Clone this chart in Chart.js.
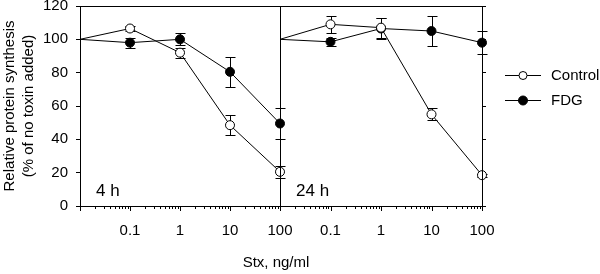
<!DOCTYPE html>
<html lang="en">
<head>
    <meta charset="UTF-8">
    <script src="https://cdn.jsdelivr.net/npm/chart.js"></script>
    <title>Stx protein synthesis</title>
    <style>
        body { margin: 0; background: #fff; }
        .wrap { position: relative; width: 600px; height: 274px; }
        .wrap canvas { position: absolute; top: 0; }
        #xtitle { position: absolute; left: 176px; top: 253px; width: 200px; text-align: center;
                  font: 15px "Liberation Sans", Arial, sans-serif; line-height: 18px; color: #000; }
    </style>
</head>
<body>
<div class="wrap">
    <canvas id="left" width="300" height="274" style="left:0;width:300px;height:274px"></canvas>
    <canvas id="right" width="340" height="274" style="left:260px;width:340px;height:274px"></canvas>
    <div id="xtitle">Stx, ng/ml</div>
</div>
<script>
// Stx dose (ng/ml); first entry = no toxin, drawn at the axis origin
const doses = [0.01, 0.1, 1, 10, 100]
const xLabels = [0.1, 1, 10, 100]
const yTicks = [0, 20, 40, 60, 80, 100, 120]

// 4 h
const ctrl4h = [100, 106.5, 92, 48.5, 20.5]
const ctrl4hErr = [0, 1.5, 3, 6, 3.5]
const fdg4h = [100, 98, 100, 80.5, 49.5]
const fdg4hErr = [0, 3, 3.5, 9, 9]

// 24 h
const ctrl24h = [100, 109, 107, 55, 18.5]
const ctrl24hErr = [0, 5, 6, 3.5, 1]
const fdg24h = [100, 98.5, 106.5, 105, 98]
const fdg24hErr = [0, 2.5, 6.5, 9, 7]

const seriesNames = ['Control', 'FDG']

Chart.defaults.font.family = '"Liberation Sans", Arial, sans-serif'
Chart.defaults.font.size = 15
Chart.defaults.color = '#000'

function makeSet(label, vals, errs, fill) {
    return {
        label: label,
        data: doses.map((d, i) => ({x: d, y: vals[i]})),
        errors: errs,
        borderColor: '#000',
        borderWidth: 1,
        backgroundColor: fill,
        pointBackgroundColor: fill,
        pointBorderColor: '#000',
        pointBorderWidth: 1,
        pointRadius: doses.map((d, i) => i == 0 ? 0 : 4.5),
        pointHoverRadius: doses.map((d, i) => i == 0 ? 0 : 4.5),
        tension: 0,
        clip: false
    }
}

// no extra padding from edge labels, so the plot area sits where we want it
function noPad(s) {
    s.paddingLeft = 0; s.paddingRight = 0; s.paddingTop = 0; s.paddingBottom = 0
}

// error bars + minor log ticks + frame + panel label
const extras = {
    id: 'extras',
    beforeDatasetsDraw(chart) {
        const c = chart.ctx
        const ys = chart.scales.y
        c.save()
        c.strokeStyle = '#000'
        c.lineWidth = 1
        chart.data.datasets.forEach((ds, i) => {
            const meta = chart.getDatasetMeta(i)
            ds.errors.forEach((e, j) => {
                if (!e) return
                const x = Math.round(meta.data[j].x) + 0.5
                const v = ds.data[j].y
                const t = Math.round(ys.getPixelForValue(v + e)) + 0.5
                const b = Math.round(ys.getPixelForValue(v - e)) + 0.5
                c.beginPath()
                c.moveTo(x, t); c.lineTo(x, b)
                c.moveTo(x - 5, t); c.lineTo(x + 5, t)
                c.moveTo(x - 5, b); c.lineTo(x + 5, b)
                c.stroke()
            })
        })
        c.restore()
    },
    afterDraw(chart, args, opts) {
        const c = chart.ctx
        const a = chart.chartArea
        const xs = chart.scales.x
        c.save()
        c.strokeStyle = '#000'
        c.lineWidth = 1
        // frame: top + vertical panel edges
        c.beginPath()
        c.moveTo(a.left, a.top + 0.5); c.lineTo(a.right, a.top + 0.5)
        c.moveTo(Math.round(a.left) + 0.5, a.top); c.lineTo(Math.round(a.left) + 0.5, a.bottom)
        c.moveTo(Math.round(a.right) + 0.5, a.top); c.lineTo(Math.round(a.right) + 0.5, a.bottom)
        c.stroke()
        // log ticks below x axis
        c.beginPath()
        ;[0.01, 0.1, 1, 10].forEach(d => {
            for (let k = 1; k <= 9; k++) {
                const px = Math.round(xs.getPixelForValue(k * d)) + 0.5
                const len = k == 1 ? 5 : 3
                c.moveTo(px, a.bottom); c.lineTo(px, a.bottom + len)
            }
        })
        const p100 = Math.round(xs.getPixelForValue(100)) + 0.5
        c.moveTo(p100, a.bottom); c.lineTo(p100, a.bottom + 5)
        c.stroke()
        // panel label
        c.fillStyle = '#000'
        c.font = '17px "Liberation Sans", Arial, sans-serif'
        c.textBaseline = 'alphabetic'
        c.fillText(opts.panel, a.left + 16, a.bottom - 10)
        // legend
        if (opts.legend) {
            const fills = ['#fff', '#000']
            seriesNames.forEach((n, i) => {
                const ly = a.top + 69 + i * 25 + 0.5
                const lx = a.right + 23
                c.beginPath()
                c.moveTo(lx, ly); c.lineTo(lx + 36, ly)
                c.stroke()
                c.beginPath()
                c.arc(lx + 18, ly, i == 0 ? 4 : 4.5, 0, Math.PI * 2)
                c.fillStyle = fills[i]
                c.fill()
                c.stroke()
                c.fillStyle = '#000'
                c.font = '15px "Liberation Sans", Arial, sans-serif'
                c.textBaseline = 'middle'
                c.fillText(n, lx + 46, ly)
            })
        }
        c.restore()
    }
}

function xScale() {
    return {
        type: 'logarithmic',
        min: 0.01,
        max: 100,
        afterBuildTicks: s => { s.ticks = xLabels.map(v => ({value: v})) },
        afterFit: s => { s.height = 68; noPad(s) },
        ticks: { callback: v => String(v), padding: 16, autoSkip: false, maxRotation: 0 },
        grid: { display: false, drawTicks: false },
        border: { display: true, color: '#000', width: 1 }
    }
}

function yScale(pos, showLabels) {
    return {
        position: pos,
        min: 0,
        max: 120,
        afterBuildTicks: s => { s.ticks = yTicks.map(v => ({value: v})) },
        afterFit: s => { s.width = pos == 'left' ? 80 : 118; noPad(s) },
        ticks: { display: showLabels, padding: 8 },
        grid: { drawOnChartArea: false, drawTicks: true, tickLength: 4, color: '#000' },
        border: { display: true, color: '#000', width: 1 },
        title: {
            display: showLabels,
            text: ['Relative protein synthesis', '(% of no toxin added)'],
            font: { size: 15, lineHeight: 1.3 },
            padding: { top: 0, bottom: 0 }
        }
    }
}

function panel(id, datasets, ypos, showLabels, pad, label, legend) {
    new Chart(document.getElementById(id), {
        type: 'line',
        data: { datasets: datasets },
        options: {
            responsive: false,
            animation: false,
            events: [],
            layout: { padding: pad, autoPadding: false },
            scales: { x: xScale(), y: yScale(ypos, showLabels) },
            plugins: {
                legend: { display: false },
                tooltip: { enabled: false },
                extras: { panel: label, legend: legend }
            }
        },
        plugins: [extras]
    })
}

panel('left', [
    makeSet('Control', ctrl4h, ctrl4hErr, '#fff'),
    makeSet('FDG', fdg4h, fdg4hErr, '#000')
], 'left', true, {left: 0, right: 20, top: 6, bottom: 0}, '4 h', false)

panel('right', [
    makeSet('Control', ctrl24h, ctrl24hErr, '#fff'),
    makeSet('FDG', fdg24h, fdg24hErr, '#000')
], 'right', false, {left: 20, right: 0, top: 6, bottom: 0}, '24 h', true)
</script>
</body>
</html>
